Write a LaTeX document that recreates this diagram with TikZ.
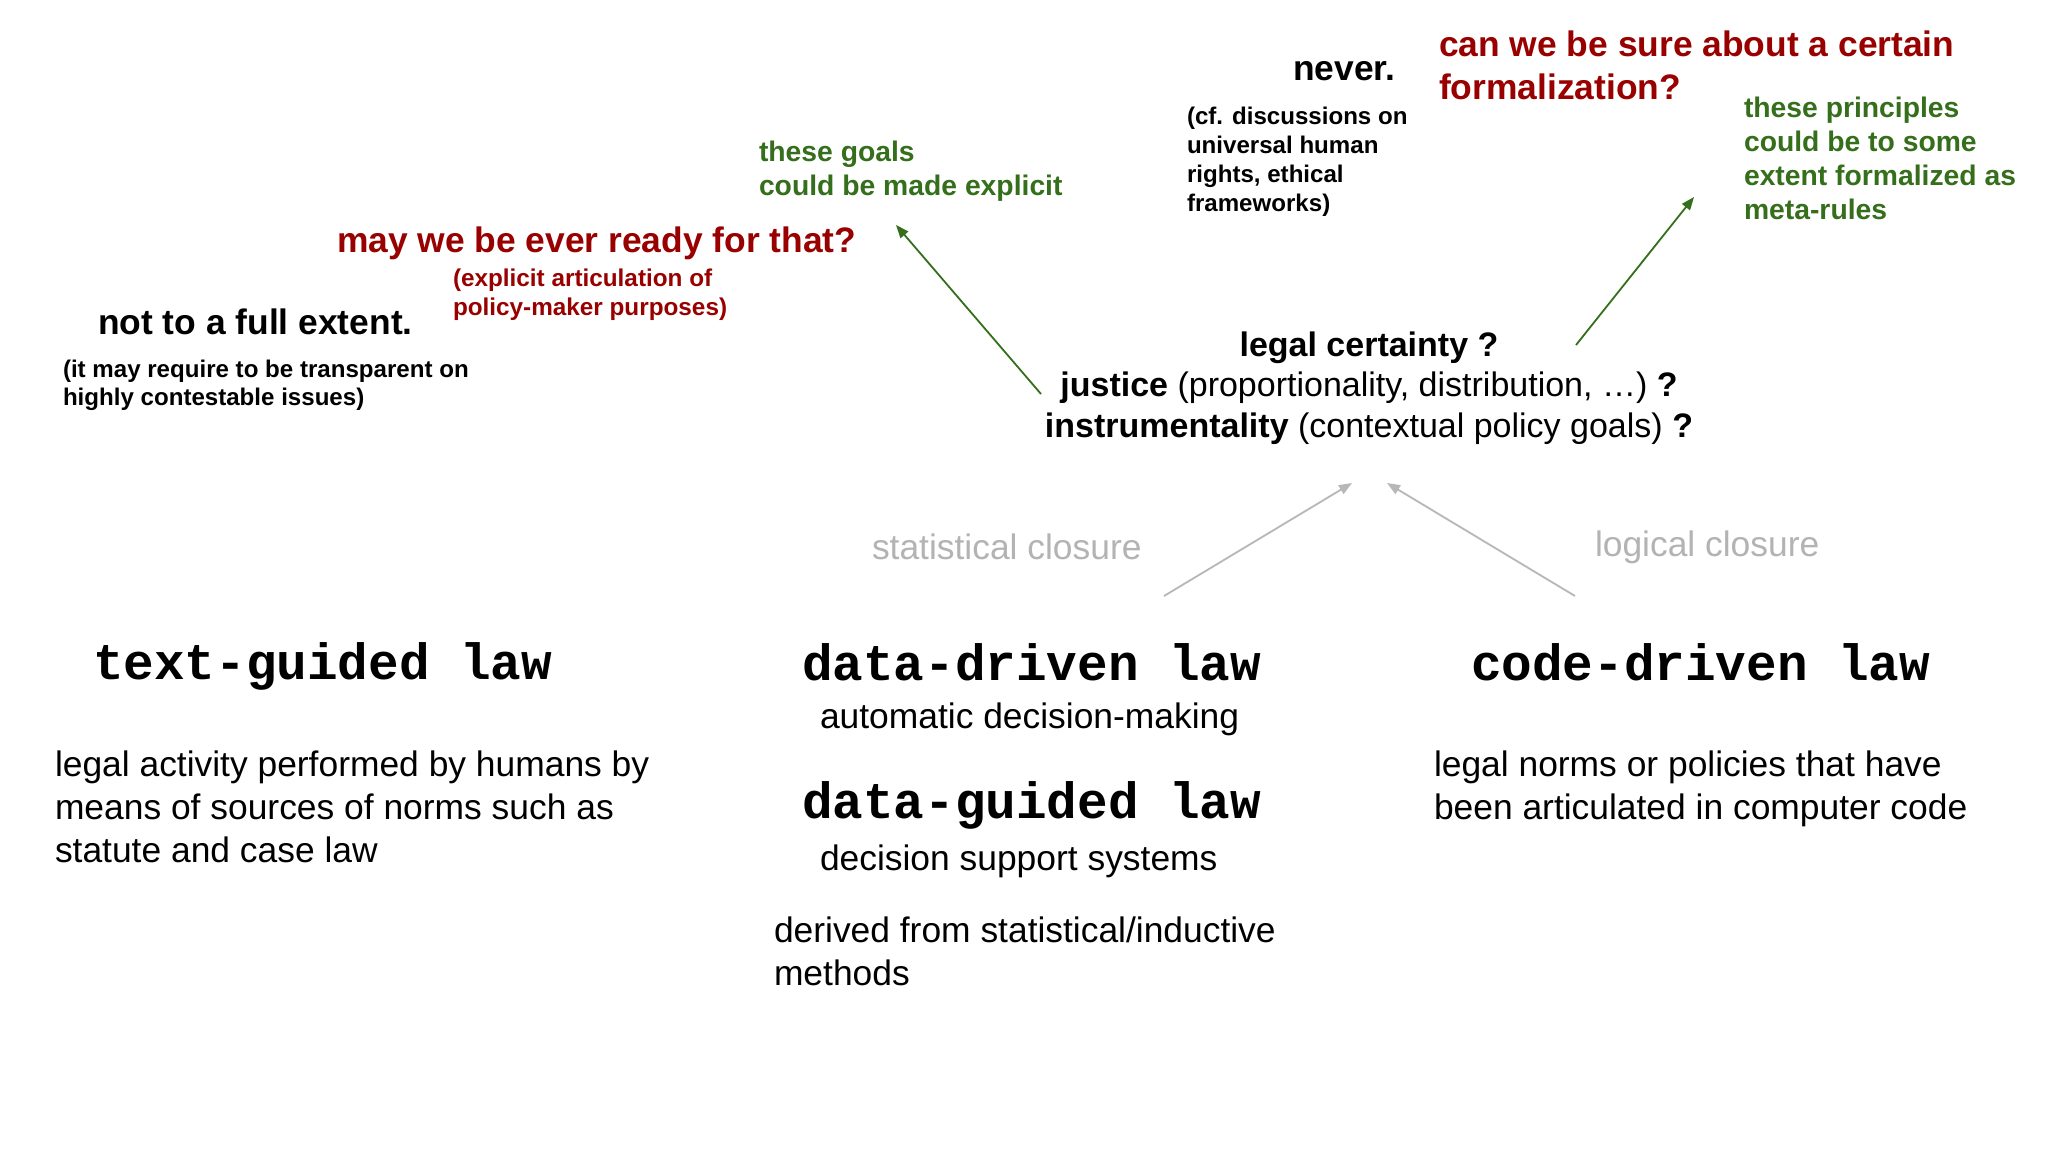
\documentclass[tikz,border=0pt]{standalone}
\usepackage{fontspec}
\setmainfont{Liberation Sans}
\newfontfamily\monob{Liberation Mono}
\usetikzlibrary{arrows.meta}
\definecolor{dred}{HTML}{990000}
\definecolor{dgreen}{HTML}{356F1C}
\definecolor{lgray}{HTML}{B3B3B3}
\definecolor{agray}{HTML}{B7B7B7}
\newcommand\mylines[1]{\vtop{\halign{##\hfil\cr#1\crcr}}}
\newcommand\mycenter[1]{\vtop{\halign{\hfil##\hfil\cr#1\crcr}}}
\newcommand\fsz[2]{\fontsize{#1pt}{#2pt}\selectfont}
\begin{document}
\begin{tikzpicture}[x=1pt,y=-1pt,
  txt/.style={inner sep=0pt, outer sep=0pt, anchor=base west},
  big/.style={txt, font=\fsz{35.4}{43}},
  bigb/.style={txt, font=\fsz{35.4}{43}\bfseries},
  smallb/.style={txt, font=\fsz{24.1}{29}\bfseries},
  greenb/.style={txt, font=\fsz{28.3}{34}\bfseries, text=dgreen},
  mono/.style={txt, font=\fsz{51}{60}\monob\bfseries},
  garrow/.style={draw=dgreen, line width=1.8pt, -{Triangle[length=13pt,width=10pt]}},
  carrow/.style={draw=agray, line width=1.8pt, -{Triangle[length=13pt,width=10pt]}}]
\fill[white] (0,0) rectangle (2048,1152);
\useasboundingbox (0,0) rectangle (2048,1152);

% top annotations
\node[bigb] (never) at (1293,80) {never.};
\node[smallb] (cf) at (1187,124) {\mylines{(cf. discussions on\cr universal human\cr rights, ethical\cr frameworks)}};
\node[bigb, text=dred] (sure) at (1439,56) {\mylines{can we be sure about a certain\cr formalization?}};
\node[greenb] (princ) at (1744,117) {\mylines{these principles\cr could be to some\cr extent formalized as\cr meta-rules}};
\node[greenb] (goals) at (759,161) {\mylines{these goals\cr could be made explicit}};
\node[bigb, text=dred] (ready) at (337,252) {may we be ever ready for that?};
\node[txt, font=\fsz{24.3}{29}\bfseries, text=dred] (artic) at (453,286) {\mylines{(explicit articulation of\cr policy-maker purposes)}};
\node[bigb] (full) at (98,334) {not to a full extent.};
\node[txt, font=\fsz{24.1}{28.5}\bfseries] (contest) at (63,377) {\mylines{(it may require to be transparent on\cr highly contestable issues)}};

% central values
\node[inner sep=0pt, anchor=base, font=\fsz{34}{40.5}] (values) at (1369,356)
  {\mycenter{\textbf{legal certainty ?}\cr \textbf{justice} (proportionality, distribution, \dots) \textbf{?}\cr \textbf{instrumentality} (contextual policy goals) \textbf{?}}};

% closures
\node[big, text=lgray] (stat) at (872,559) {statistical closure};
\node[big, text=lgray] (logic) at (1595,556) {logical closure};

% three kinds of law
\node[mono] (text) at (93,679) {text-guided law};
\node[mono] (ddriven) at (802,680) {data-driven law};
\node[big] (auto) at (820,728) {automatic decision-making};
\node[mono] (dguided) at (802,818) {data-guided law};
\node[big] (dss) at (820,870) {decision support systems};
\node[big] (derived) at (774,942) {\mylines{derived from statistical/inductive\cr methods}};
\node[mono] (code) at (1471,680) {code-driven law};
\node[big] (textdesc) at (55,776) {\mylines{legal activity performed by humans by\cr means of sources of norms such as\cr statute and case law}};
\node[big] (codedesc) at (1434,776) {\mylines{legal norms or policies that have\cr been articulated in computer code}};

% arrow ends
\coordinate (g1s) at (1041,394);
\coordinate (g1e) at (896,225);
\coordinate (g2s) at (1576,345);
\coordinate (g2e) at (1694,197);
\coordinate (c1s) at (1164,596);
\coordinate (c1e) at (1352,483);
\coordinate (c2s) at (1575,596);
\coordinate (c2e) at (1387,483);

\draw[garrow] (g1s) -- (g1e);
\draw[garrow] (g2s) -- (g2e);
\draw[carrow] (c1s) -- (c1e);
\draw[carrow] (c2s) -- (c2e);
\end{tikzpicture}
\end{document}
